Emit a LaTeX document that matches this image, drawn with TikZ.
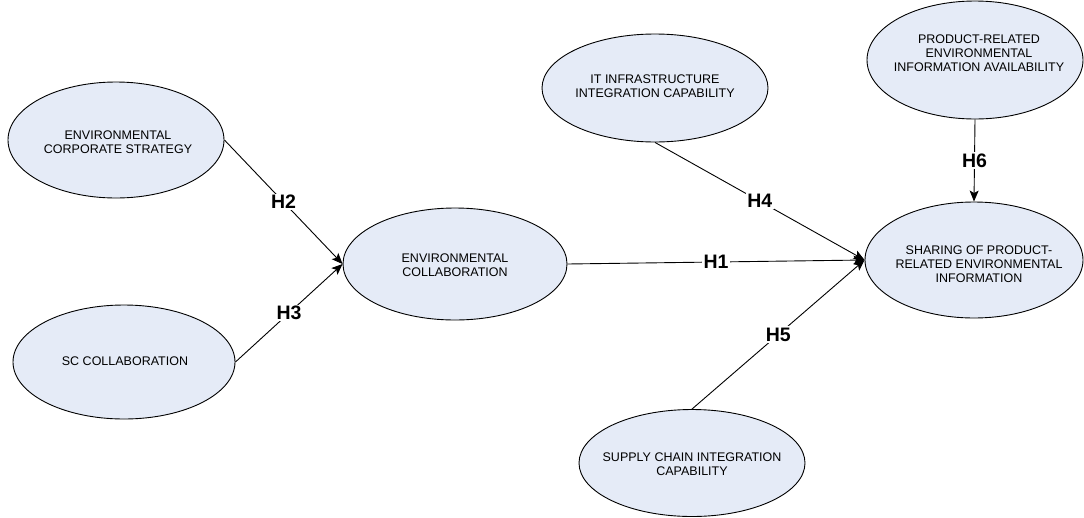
\documentclass[tikz,border=0pt]{standalone}
\usepackage{fontspec}
\setmainfont{Liberation Sans}
\usetikzlibrary{shapes.geometric,arrows.meta}
\definecolor{ellfill}{RGB}{229,235,247}
\tikzset{
 ell/.style={ellipse, draw=black, fill=ellfill, line width=0.9pt, inner sep=0pt},
 etext/.style={align=center, font=\fontsize{12.5}{14.3}\selectfont, inner sep=0pt},
 link/.style={line width=0.9pt, -{Stealth[length=11pt,width=9pt,inset=2.5pt]}},
 hlabel/.style={fill=white, inner sep=1.5pt, font=\fontsize{19.5}{22}\selectfont\bfseries}
}
\begin{document}
\begin{tikzpicture}[x=1pt,y=-1pt]
\useasboundingbox (0,0) rectangle (1084,517);
% ellipses
\node[ell, minimum width=216pt, minimum height=116pt] (esc) at (116,140) {};
\node[etext] (esct) at (118,142) {ENVIRONMENTAL\\CORPORATE STRATEGY};
\node[ell, minimum width=222pt, minimum height=114pt] (sc) at (124,362) {};
\node[etext] (sct) at (125,361) {SC COLLABORATION};
\node[ell, minimum width=224pt, minimum height=112pt] (ec) at (455,264) {};
\node[etext] (ect) at (455,265) {ENVIRONMENTAL\\COLLABORATION};
\node[ell, minimum width=226pt, minimum height=108pt] (it) at (655,88) {};
\node[etext] (itt) at (655,86) {IT INFRASTRUCTURE\\INTEGRATION CAPABILITY};
\node[ell, minimum width=216pt, minimum height=118pt] (avail) at (975,60) {};
\node[etext] (availt) at (979,53) {PRODUCT-RELATED\\ENVIRONMENTAL\\INFORMATION AVAILABILITY};
\node[ell, minimum width=218pt, minimum height=116pt] (share) at (974,260) {};
\node[etext] (sharet) at (979,264) {SHARING OF PRODUCT-\\RELATED ENVIRONMENTAL\\INFORMATION};
\node[ell, minimum width=226pt, minimum height=107pt] (scic) at (692,463) {};
\node[etext] (scict) at (692,464) {SUPPLY CHAIN INTEGRATION\\CAPABILITY};
% connectors
\draw[link] (esc.east) -- node[hlabel] {H2} (ec.west);
\draw[link] (sc.east) -- node[hlabel] {H3} (ec.west);
\draw[link] (ec.east) -- node[hlabel] {H1} (share.west);
\draw[link] (it.south) -- node[hlabel] {H4} (share.west);
\draw[link] (scic.north) -- node[hlabel] {H5} (share.west);
\draw[link] (avail.south) -- node[hlabel] {H6} (share.north);
\end{tikzpicture}
\end{document}
